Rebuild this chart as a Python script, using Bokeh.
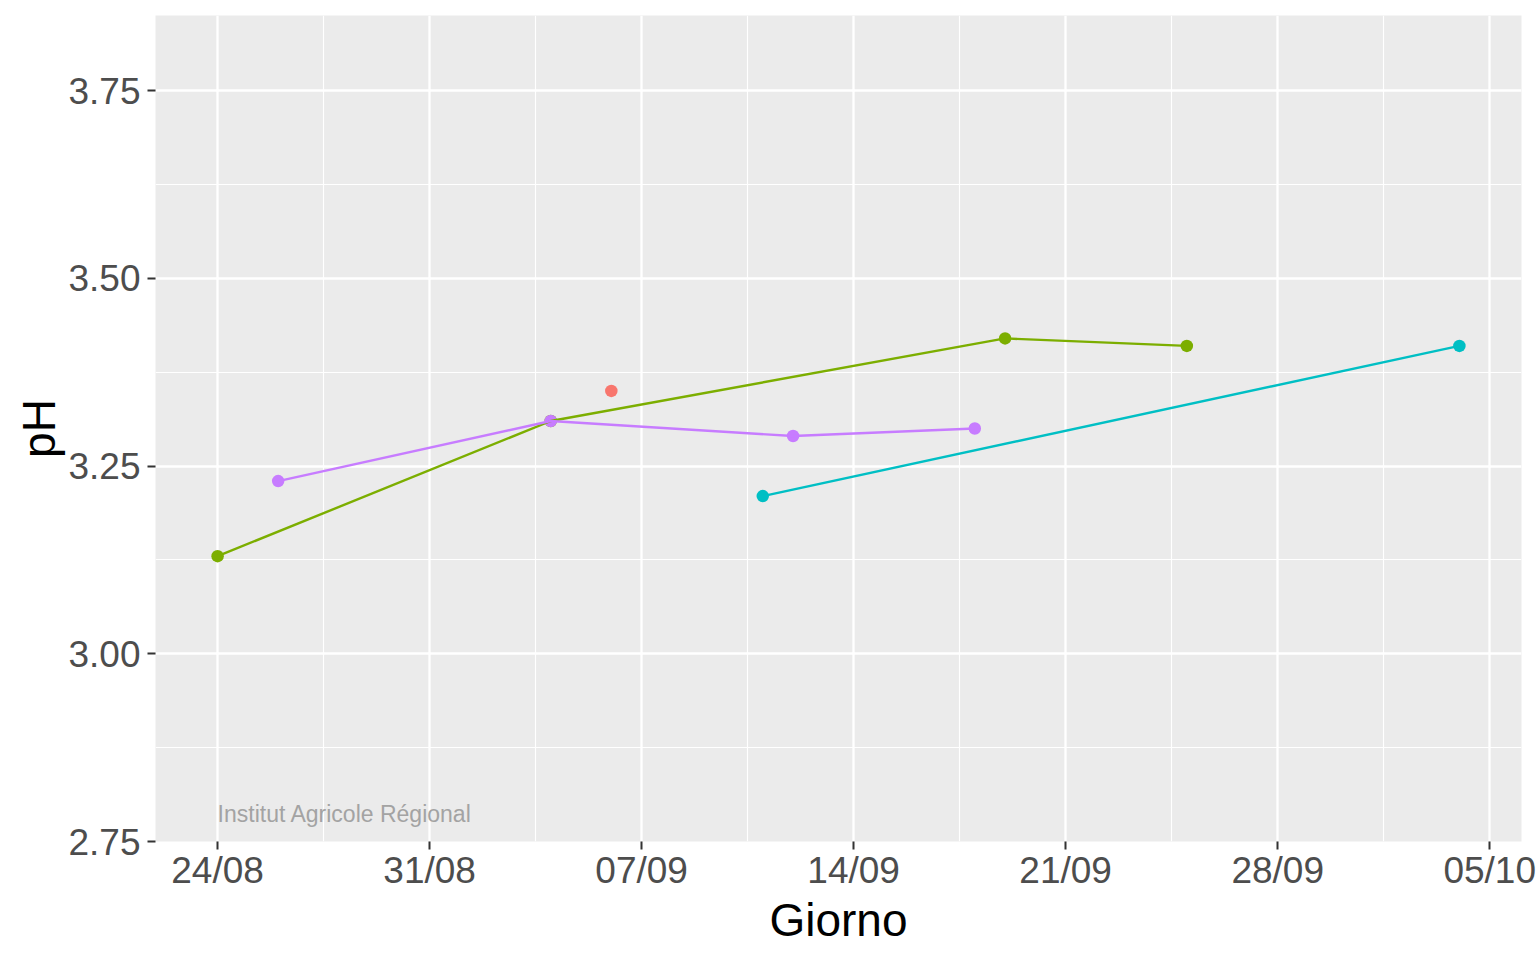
import pandas as pd
from bokeh.plotting import figure
from bokeh.models import (Range1d, FixedTicker, DatetimeTickFormatter,
                          PrintfTickFormatter, Label)
from bokeh.embed import file_html
from bokeh.resources import INLINE

# ---------------- data ----------------
series_names = ["Serie A", "Serie B", "Serie C", "Serie D"]
series_colors = ["#F8766D", "#7CAE00", "#00BFC4", "#C77CFF"]

dates_a = ["2021-09-06"]
ph_a = [3.35]

dates_b = ["2021-08-24", "2021-09-04", "2021-09-19", "2021-09-25"]
ph_b = [3.13, 3.31, 3.42, 3.41]

dates_c = ["2021-09-11", "2021-10-04"]
ph_c = [3.21, 3.41]

dates_d = ["2021-08-26", "2021-09-04", "2021-09-12", "2021-09-18"]
ph_d = [3.23, 3.31, 3.29, 3.30]

x_tick_dates = ["2021-08-24", "2021-08-31", "2021-09-07", "2021-09-14",
                "2021-09-21", "2021-09-28", "2021-10-05"]
x_minor_dates = ["2021-08-27 12:00", "2021-09-03 12:00", "2021-09-10 12:00",
                 "2021-09-17 12:00", "2021-09-24 12:00", "2021-10-01 12:00"]
y_ticks = [2.75, 3.00, 3.25, 3.50, 3.75]
y_minor_ticks = [2.875, 3.125, 3.375, 3.625]
y_limits = [2.75, 3.85]

x_title = "Giorno"
y_title = "pH"
credit = "Institut Agricole Régional"

# ---------------- helpers ----------------
def ms(d):
    return pd.Timestamp(d).value // 10**6

all_dates = [pd.Timestamp(d) for d in dates_a + dates_b + dates_c + dates_d]
dmin, dmax = min(all_dates), max(all_dates)
span = dmax - dmin
x_start = ms(dmin - span * 0.05)
x_end = ms(dmax + span * 0.05)

FONT = "Liberation Sans"

p = figure(width=1536, height=960, x_axis_type="datetime",
           output_backend="svg", toolbar_location=None,
           x_range=Range1d(x_start, x_end),
           y_range=Range1d(y_limits[0], y_limits[1]),
           min_border_left=155, min_border_top=15, min_border_right=15,
           min_border_bottom=119)

p.background_fill_color = "#EBEBEB"
p.border_fill_color = "white"
p.outline_line_color = None

xt = FixedTicker(ticks=[ms(d) for d in x_tick_dates],
                 minor_ticks=[ms(d) for d in x_minor_dates])
yt = FixedTicker(ticks=y_ticks, minor_ticks=y_minor_ticks)
p.xaxis.ticker = xt
p.yaxis.ticker = yt
p.xgrid.ticker = xt
p.ygrid.ticker = yt

fmt = "%d/%m"
p.xaxis.formatter = DatetimeTickFormatter(
    milliseconds=fmt, seconds=fmt, minsec=fmt, minutes=fmt, hourmin=fmt,
    hours=fmt, days=fmt, months=fmt, years=fmt)
p.yaxis.formatter = PrintfTickFormatter(format="%.2f")

for g in (p.xgrid, p.ygrid):
    g.grid_line_color = "white"
    g.grid_line_width = 2.3
    g.minor_grid_line_color = "white"
    g.minor_grid_line_width = 1.15

for ax in (p.xaxis, p.yaxis):
    ax.axis_line_color = None
    ax.major_tick_line_color = "#333333"
    ax.major_tick_line_width = 2
    ax.major_tick_in = 0
    ax.major_tick_out = 8
    ax.minor_tick_line_color = None
    ax.major_label_text_font = FONT
    ax.major_label_text_font_size = "37px"
    ax.major_label_text_color = "#4D4D4D"
    ax.axis_label_text_font = FONT
    ax.axis_label_text_font_size = "46px"
    ax.axis_label_text_font_style = "normal"
    ax.axis_label_text_color = "black"

p.xaxis.axis_label = x_title
p.yaxis.axis_label = y_title
p.xaxis.major_label_standoff = 0
p.xaxis.axis_label_standoff = 0
p.yaxis.major_label_standoff = 7
p.yaxis.axis_label_standoff = 0

series = [(dates_a, ph_a), (dates_b, ph_b), (dates_c, ph_c), (dates_d, ph_d)]

for (d, v), name, col in zip(series, series_names, series_colors):
    p.scatter(x=pd.to_datetime(d), y=v, size=12.5, color=col, line_color=None)
for (d, v), name, col in zip(series, series_names, series_colors):
    if len(d) > 1:
        p.line(x=pd.to_datetime(d), y=v, line_width=2.4, color=col)

p.add_layout(Label(x=ms(x_tick_dates[0]), y=2.786, text=credit,
                   text_font=FONT, text_font_size="23px",
                   text_color="#A3A3A3", text_baseline="middle",
                   text_align="left"))

open("out.html", "w").write(file_html(p, INLINE))
